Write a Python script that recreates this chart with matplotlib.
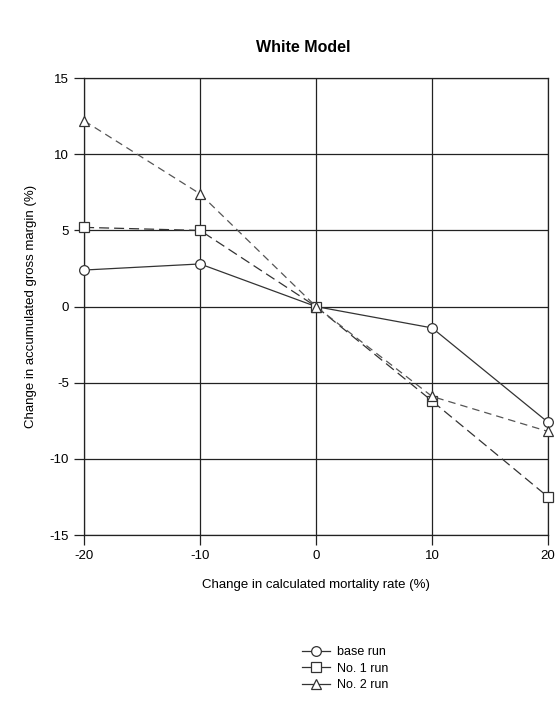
import numpy as np
import matplotlib
matplotlib.use("Agg")
import matplotlib.pyplot as plt
from matplotlib.lines import Line2D

plt.rcParams['font.family'] = ['Liberation Sans', 'DejaVu Sans']
plt.rcParams['axes.unicode_minus'] = False

# Data
mortality_change = [-20, -10, 0, 10, 20]
base_run = [2.4, 2.8, 0.0, -1.4, -7.6]
no1_run = [5.2, 5.0, 0.0, -6.2, -12.5]
no2_run = [12.2, 7.4, 0.0, -5.9, -8.2]
labels = ['base run', 'No. 1 run', 'No. 2 run']
markers = ['o', 's', '^']

fig = plt.figure(figsize=(5.57, 7.04), dpi=100)
ax = fig.add_axes([0.151, 0.240, 0.833, 0.649])

mk = dict(ms=7, mfc='white', mec='#333333', mew=0.9, clip_on=False, zorder=3)
ax.plot(mortality_change, base_run, color='#333333', lw=0.9, ls='-',
        marker=markers[0], **mk)
ax.plot(mortality_change, no1_run, color='#333333', lw=0.9, ls=(0, (8, 4)),
        marker=markers[1], **mk)
ax.plot(mortality_change, no2_run, color='#555555', lw=0.9, ls=(0, (6, 4)),
        marker=markers[2], **mk)

ax.set_xlim(-20, 20)
ax.set_ylim(-15, 15)
ax.set_xticks([-20, -10, 0, 10, 20])
ax.set_yticks([-15, -10, -5, 0, 5, 10, 15])
ax.grid(True, color='#222222', lw=0.9)
ax.tick_params(direction='out', length=7, width=0.9, color='#222222', labelsize=9.5, pad=4)
for s in ax.spines.values():
    s.set_color('#222222')
    s.set_linewidth(0.9)

ax.set_xlabel('Change in calculated mortality rate (%)', fontsize=9.5, labelpad=12)
ax.set_ylabel('Change in accumulated gross margin (%)', fontsize=9.5, labelpad=9)
fig.text(0.545, 0.933, 'White Model', ha='center', va='center', fontsize=11.5, fontweight='bold')

handles = [Line2D([], [], color='#333333', lw=0.9, marker=m, ms=7, mfc='white',
                  mec='#333333', mew=0.9) for m in markers]
fig.legend(handles, labels, loc='center', bbox_to_anchor=(0.62, 0.05), frameon=False,
           fontsize=9, handlelength=2.2, handletextpad=0.6, labelspacing=0.35)

fig.savefig('out.png', dpi=100)
